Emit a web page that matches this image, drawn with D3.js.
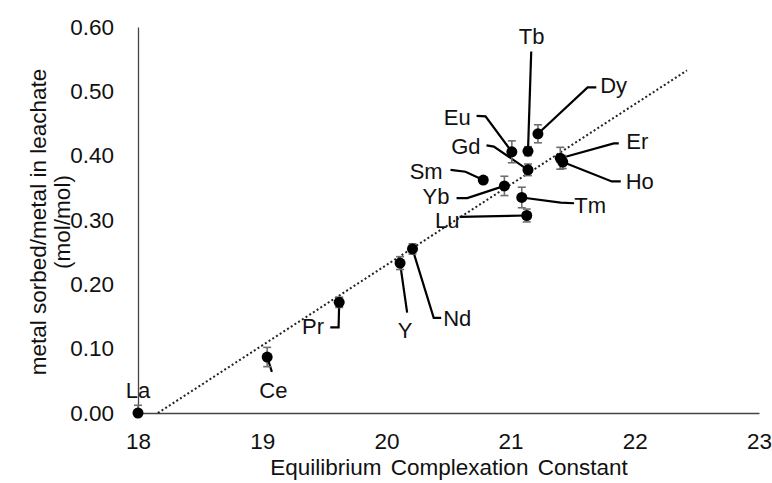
<!DOCTYPE html>
<html>
<head>
<meta charset="utf-8">
<script src="https://cdn.jsdelivr.net/npm/d3@7"></script>
<style>
  html, body { margin: 0; padding: 0; background: #fff; }
  svg { display: block; font-family: "Liberation Sans", Arial, sans-serif; }
</style>
</head>
<body>
<svg id="chart" width="772" height="483"></svg>
<script>
// Rare-earth elements: complexation constant vs. sorbed/leachate ratio
const elements = ["La", "Ce", "Pr", "Y", "Nd", "Sm", "Yb", "Eu", "Tm", "Lu", "Tb", "Gd", "Dy", "Er", "Ho"];
const complexation = [18.00, 19.04, 19.62, 20.11, 20.21, 20.78, 20.95, 21.01, 21.09, 21.13, 21.14, 21.14, 21.22, 21.40, 21.42];
const sorbedRatio = [0.000, 0.087, 0.172, 0.233, 0.255, 0.362, 0.353, 0.406, 0.335, 0.307, 0.407, 0.378, 0.434, 0.396, 0.390];
const ratioError = [0.012, 0.015, 0.008, 0.010, 0.008, 0.004, 0.015, 0.017, 0.016, 0.010, 0.007, 0.009, 0.014, 0.017, 0.010];

// Label anchor (data units) for each element
const labelX = [18.00, 19.09, 19.41, 20.15, 20.57, 20.32, 20.40, 20.57, 21.64, 20.49, 21.17, 20.64, 21.83, 22.02, 22.04];
const labelY = [0.036, 0.036, 0.134, 0.129, 0.147, 0.375, 0.337, 0.460, 0.323, 0.299, 0.585, 0.414, 0.510, 0.422, 0.360];
// Leader line bend points (data units) from the label toward the point
const leaderPts = [
  [],
  [[19.078, 0.064]],
  [[19.548, 0.133], [19.615, 0.133]],
  [[20.167, 0.156]],
  [[20.441, 0.148], [20.381, 0.148]],
  [[20.516, 0.378], [20.637, 0.375]],
  [[20.565, 0.334], [20.651, 0.334]],
  [[20.726, 0.462], [20.798, 0.461]],
  [[21.511, 0.326], [21.403, 0.327]],
  [[20.589, 0.305]],
  [[21.166, 0.562]],
  [[20.806, 0.416], [20.865, 0.414]],
  [[21.690, 0.506], [21.620, 0.506]],
  [[21.871, 0.419], [21.831, 0.419]],
  [[21.887, 0.360], [21.815, 0.360]]
];

const xTicks = [18, 19, 20, 21, 22, 23];
const yTicks = [0, 0.1, 0.2, 0.3, 0.4, 0.5, 0.6];

// Linear trendline (y = slope * x + intercept), forecast to x = 22.42
const trendSlope = 0.125;
const trendIntercept = -2.27;
const trendEnd = 22.42;

const xTitle = "Equilibrium Complexation Constant";
const yTitle = ["metal sorbed/metal in leachate", "(mol/mol)"];

const svg = d3.select("#chart");
const x = d3.scaleLinear().domain([18, 23]).range([138, 759]);
const y = d3.scaleLinear().domain([0, 0.6]).range([413, 27]);

svg.append("rect").attr("width", 772).attr("height", 483).attr("fill", "#fff");

// Axes
const yAxis = svg.append("g")
  .attr("transform", `translate(${x(18)},0)`)
  .call(d3.axisLeft(y).tickValues(yTicks).tickFormat(d3.format(".2f")).tickSize(0).tickPadding(24));
const xAxis = svg.append("g")
  .attr("transform", `translate(0,${y(0)})`)
  .call(d3.axisBottom(x).tickValues(xTicks).tickFormat(d3.format("d")).tickSize(0).tickPadding(20));
[yAxis, xAxis].forEach(g => {
  g.select(".domain").attr("stroke", "#444").attr("stroke-width", 1.3);
  g.selectAll("text").attr("font-size", 22.5).attr("fill", "#111")
    .attr("font-family", "'Liberation Sans', Arial, sans-serif");
});

// Axis titles
svg.append("text")
  .attr("x", 449).attr("y", 475)
  .attr("text-anchor", "middle")
  .attr("font-size", 22.5).attr("fill", "#111")
  .attr("word-spacing", 3)
  .text(xTitle);

const yt = svg.append("text")
  .attr("transform", "translate(0,222) rotate(-90)")
  .attr("text-anchor", "middle")
  .attr("font-size", 22.5).attr("fill", "#111");
yt.selectAll("tspan").data(yTitle).join("tspan")
  .attr("x", 0)
  .attr("y", (d, i) => 46 + i * 24)
  .text(d => d);

// Trendline, clipped at y = 0
const trendStart = -trendIntercept / trendSlope;
svg.append("line")
  .attr("x1", x(trendStart)).attr("y1", y(0))
  .attr("x2", x(trendEnd)).attr("y2", y(trendSlope * trendEnd + trendIntercept))
  .attr("stroke", "#222").attr("stroke-width", 2)
  .attr("stroke-dasharray", "2,2.4");

const pts = elements.map((e, i) => ({
  name: e, cx: complexation[i], cy: sorbedRatio[i], err: ratioError[i],
  lx: labelX[i], ly: labelY[i], bends: leaderPts[i]
}));

// Leader lines
svg.append("g").selectAll("path").data(pts.filter(d => d.bends.length)).join("path")
  .attr("fill", "none").attr("stroke", "#000").attr("stroke-width", 2.2)
  .attr("d", d => d3.line()([...d.bends.map(p => [x(p[0]), y(p[1])]), [x(d.cx), y(d.cy)]]));

// Error bars
const eb = svg.append("g").attr("stroke", "#6f6f6f").attr("stroke-width", 1.6);
pts.forEach(d => {
  const top = y(d.cy + d.err), bot = y(Math.max(0, d.cy - d.err)), cx = x(d.cx);
  eb.append("line").attr("x1", cx).attr("x2", cx).attr("y1", top).attr("y2", bot);
  eb.append("line").attr("x1", cx - 4).attr("x2", cx + 4).attr("y1", top).attr("y2", top);
  if (d.cy - d.err > 0) eb.append("line").attr("x1", cx - 4).attr("x2", cx + 4).attr("y1", bot).attr("y2", bot);
});

// Markers
svg.append("g").selectAll("circle").data(pts).join("circle")
  .attr("cx", d => x(d.cx)).attr("cy", d => y(d.cy)).attr("r", 5.5)
  .attr("fill", "#000");

// Element labels
svg.append("g").selectAll("text").data(pts).join("text")
  .attr("x", d => x(d.lx)).attr("y", d => y(d.ly)).attr("dy", "0.35em")
  .attr("text-anchor", "middle")
  .attr("font-size", 22).attr("fill", "#111")
  .text(d => d.name);
</script>
</body>
</html>
